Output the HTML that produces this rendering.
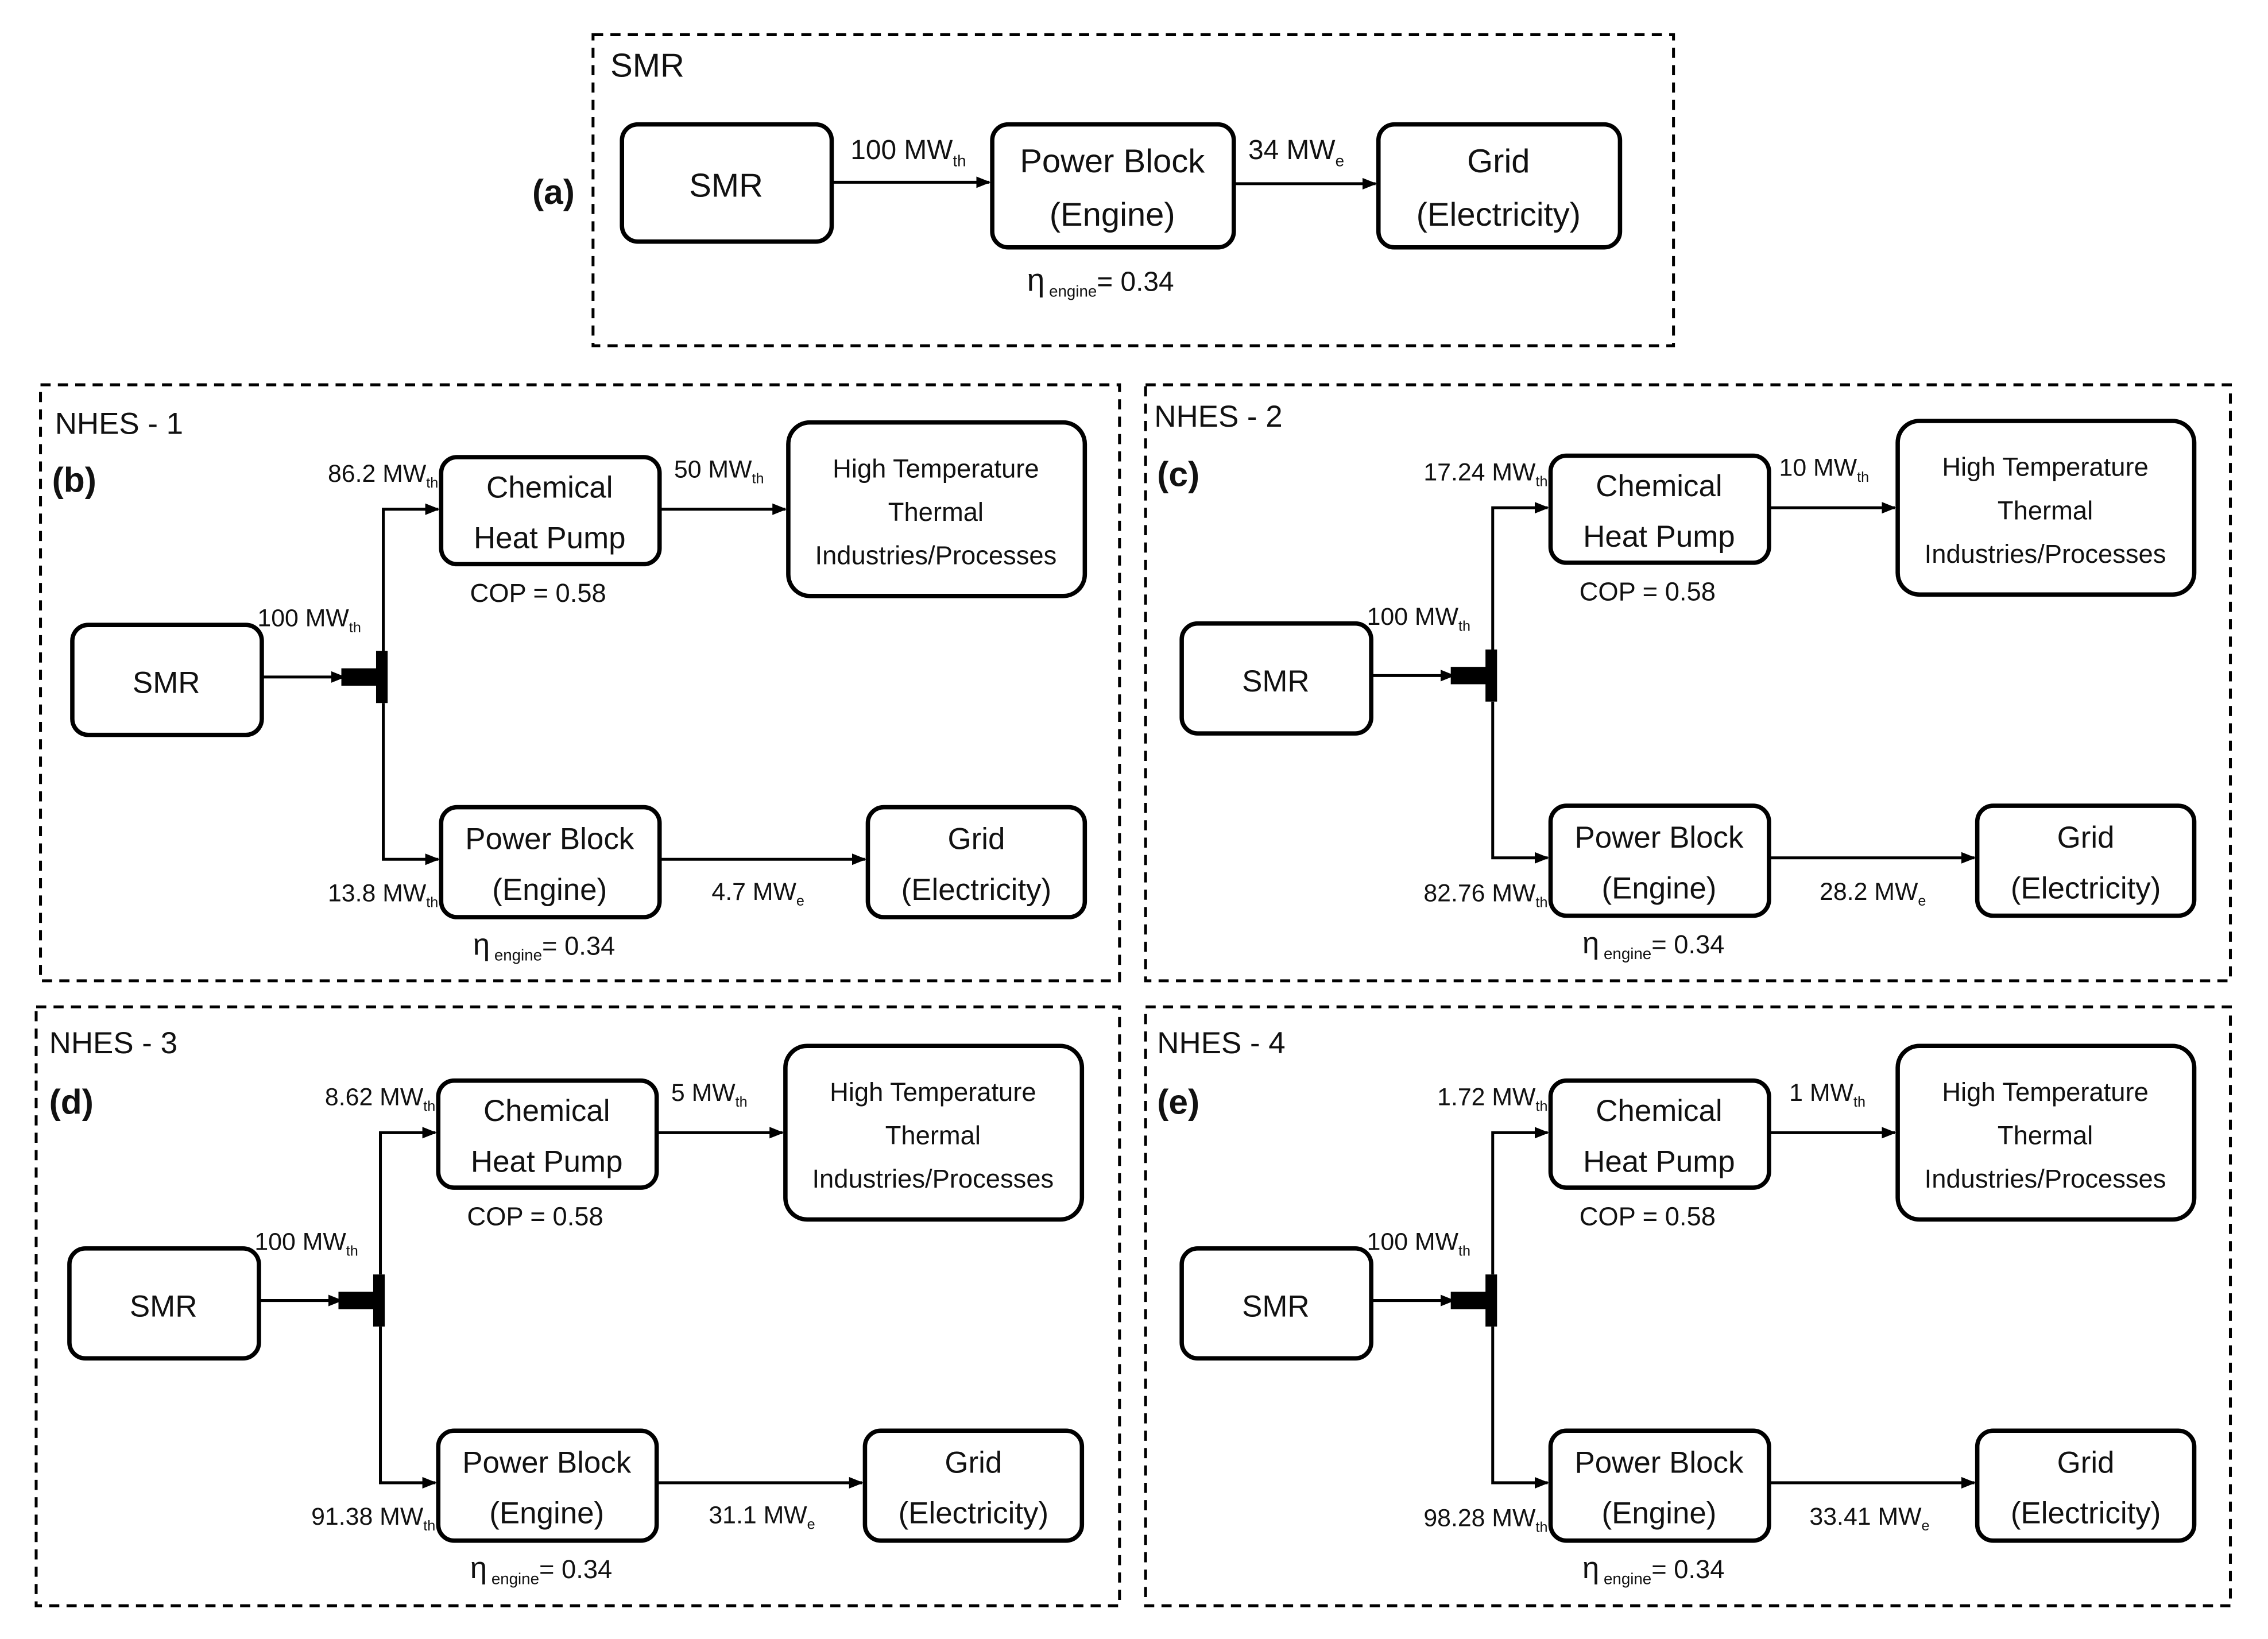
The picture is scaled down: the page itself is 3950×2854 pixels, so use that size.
<!DOCTYPE html>
<html><head><meta charset="utf-8"><style>
html,body{margin:0;padding:0;background:#fff;}
svg{display:block;}
text{font-family:"Liberation Sans Narrow","Liberation Sans",sans-serif;fill:#111;}
</style></head><body>
<svg width="3950" height="2854" viewBox="0 0 1568 1133" preserveAspectRatio="none" xmlns="http://www.w3.org/2000/svg">
<defs>
<marker id="ah" markerWidth="10" markerHeight="10" refX="9" refY="5" orient="auto" markerUnits="userSpaceOnUse">
<path d="M0,1 L10,5 L0,9 Z" fill="#000"/></marker>
<g id="st">
<rect x="50" y="432" width="131" height="76" rx="11" fill="#fff" stroke="#000" stroke-width="3"/>
<line x1="181" y1="468" x2="238" y2="468" stroke="#000" stroke-width="2" marker-end="url(#ah)"/>
<rect x="236" y="462" width="26" height="12" fill="#000"/>
<rect x="260" y="450" width="8" height="36" fill="#000"/>
<polyline points="265,450 265,352 303,352" fill="none" stroke="#000" stroke-width="2" marker-end="url(#ah)"/>
<polyline points="265,486 265,594 303,594" fill="none" stroke="#000" stroke-width="2" marker-end="url(#ah)"/>
<rect x="305" y="316" width="151" height="74" rx="11" fill="#fff" stroke="#000" stroke-width="3"/>
<line x1="456" y1="352" x2="543" y2="352" stroke="#000" stroke-width="2" marker-end="url(#ah)"/>
<rect x="545" y="292" width="205" height="120" rx="15" fill="#fff" stroke="#000" stroke-width="3"/>
<rect x="305" y="558" width="151" height="76" rx="11" fill="#fff" stroke="#000" stroke-width="3"/>
<line x1="456" y1="594" x2="598" y2="594" stroke="#000" stroke-width="2" marker-end="url(#ah)"/>
<rect x="600" y="558" width="150" height="76" rx="11" fill="#fff" stroke="#000" stroke-width="3"/>
<g text-anchor="middle" font-size="21">
<text x="115" y="479">SMR</text>
<text x="380" y="344">Chemical</text>
<text x="380" y="379">Heat Pump</text>
<text x="380" y="587">Power Block</text>
<text x="380" y="622">(Engine)</text>
<text x="675" y="587">Grid</text>
<text x="675" y="622">(Electricity)</text>
</g>
<g text-anchor="middle" font-size="18">
<text x="647" y="330">High Temperature</text>
<text x="647" y="360">Thermal</text>
<text x="647" y="390">Industries/Processes</text>
<text x="372" y="416">COP = 0.58</text>
</g>
<text x="327" y="660" font-size="21">η<tspan font-size="11" dy="4"> engine</tspan><tspan dy="-4" font-size="18">= 0.34</tspan></text>
<text x="178" y="433" font-size="17">100 MW<tspan font-size="10" dy="4">th</tspan></text>
</g>
</defs>

<!-- (a) -->
<rect x="410" y="24" width="747" height="215" fill="none" stroke="#000" stroke-width="2" stroke-dasharray="7,5"/>
<text x="422" y="53" font-size="23">SMR</text>
<text x="368" y="141" font-size="24" font-weight="bold">(a)</text>
<rect x="430" y="86" width="145" height="81" rx="11" fill="#fff" stroke="#000" stroke-width="3"/>
<line x1="575" y1="126" x2="684" y2="126" stroke="#000" stroke-width="2" marker-end="url(#ah)"/>
<rect x="686" y="86" width="167" height="85" rx="11" fill="#fff" stroke="#000" stroke-width="3"/>
<line x1="853" y1="127" x2="951" y2="127" stroke="#000" stroke-width="2" marker-end="url(#ah)"/>
<rect x="953" y="86" width="167" height="85" rx="11" fill="#fff" stroke="#000" stroke-width="3"/>
<g text-anchor="middle" font-size="23">
<text x="502" y="136">SMR</text>
<text x="769" y="119">Power Block</text>
<text x="769" y="156">(Engine)</text>
<text x="1036" y="119">Grid</text>
<text x="1036" y="156">(Electricity)</text>
</g>
<text x="588" y="110" font-size="19">100 MW<tspan font-size="11" dy="5">th</tspan></text>
<text x="863" y="110" font-size="19">34 MW<tspan font-size="11" dy="5">e</tspan></text>
<text x="710" y="201" font-size="22">η<tspan font-size="11" dy="4"> engine</tspan><tspan dy="-4" font-size="19">= 0.34</tspan></text>

<!-- (b) -->
<rect x="28" y="266" width="746" height="412" fill="none" stroke="#000" stroke-width="2" stroke-dasharray="7,5"/>
<text x="38" y="300" font-size="21">NHES - 1</text>
<text x="36" y="340" font-size="24" font-weight="bold">(b)</text>
<use href="#st"/>
<text x="303" y="333" font-size="17" text-anchor="end">86.2 MW<tspan font-size="10" dy="4">th</tspan></text>
<text x="466" y="330" font-size="17">50 MW<tspan font-size="10" dy="4">th</tspan></text>
<text x="303" y="623" font-size="17" text-anchor="end">13.8 MW<tspan font-size="10" dy="4">th</tspan></text>
<text x="492" y="622" font-size="17">4.7 MW<tspan font-size="10" dy="4">e</tspan></text>

<!-- (c) -->
<rect x="792" y="266" width="750" height="412" fill="none" stroke="#000" stroke-width="2" stroke-dasharray="7,5"/>
<text x="798" y="295" font-size="21">NHES - 2</text>
<text x="800" y="336" font-size="24" font-weight="bold">(c)</text>
<g transform="translate(767,-1)">
<use href="#st"/>
<text x="303" y="333" font-size="17" text-anchor="end">17.24 MW<tspan font-size="10" dy="4">th</tspan></text>
<text x="463" y="330" font-size="17">10 MW<tspan font-size="10" dy="4">th</tspan></text>
<text x="303" y="624" font-size="17" text-anchor="end">82.76 MW<tspan font-size="10" dy="4">th</tspan></text>
<text x="491" y="623" font-size="17">28.2 MW<tspan font-size="10" dy="4">e</tspan></text>
</g>

<!-- (d) -->
<rect x="25" y="696" width="749" height="414" fill="none" stroke="#000" stroke-width="2" stroke-dasharray="7,5"/>
<text x="34" y="728" font-size="21">NHES - 3</text>
<text x="34" y="770" font-size="24" font-weight="bold">(d)</text>
<g transform="translate(-2,431)">
<use href="#st"/>
<text x="303" y="333" font-size="17" text-anchor="end">8.62 MW<tspan font-size="10" dy="4">th</tspan></text>
<text x="466" y="330" font-size="17">5 MW<tspan font-size="10" dy="4">th</tspan></text>
<text x="303" y="623" font-size="17" text-anchor="end">91.38 MW<tspan font-size="10" dy="4">th</tspan></text>
<text x="492" y="622" font-size="17">31.1 MW<tspan font-size="10" dy="4">e</tspan></text>
</g>

<!-- (e) -->
<rect x="792" y="696" width="750" height="414" fill="none" stroke="#000" stroke-width="2" stroke-dasharray="7,5"/>
<text x="800" y="728" font-size="21">NHES - 4</text>
<text x="800" y="770" font-size="24" font-weight="bold">(e)</text>
<g transform="translate(767,431)">
<use href="#st"/>
<text x="303" y="333" font-size="17" text-anchor="end">1.72 MW<tspan font-size="10" dy="4">th</tspan></text>
<text x="470" y="330" font-size="17">1 MW<tspan font-size="10" dy="4">th</tspan></text>
<text x="303" y="624" font-size="17" text-anchor="end">98.28 MW<tspan font-size="10" dy="4">th</tspan></text>
<text x="484" y="623" font-size="17">33.41 MW<tspan font-size="10" dy="4">e</tspan></text>
</g>
</svg>
</body></html>
